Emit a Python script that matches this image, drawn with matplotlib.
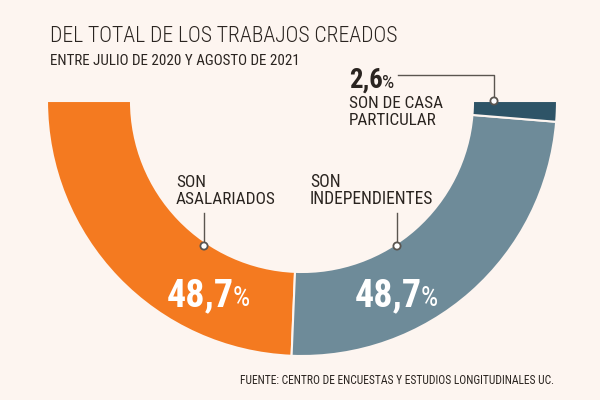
import matplotlib
matplotlib.use("Agg")
import matplotlib.pyplot as plt
from matplotlib.patches import Circle
from matplotlib import font_manager

labels = [["SON", "ASALARIADOS"], ["SON", "INDEPENDIENTES"], ["SON DE CASA", "PARTICULAR"]]
shares = [48.7, 48.7, 2.6]
share_text = ["48,7", "48,7", "2,6"]
colors = ["#F47A20", "#6E8B99", "#2E5467"]

bg = "#FDF5F0"
ink = "#2A2420"

# pick the narrowest family that is installed
installed = {f.name for f in font_manager.fontManager.ttflist}
fam = "DejaVu Sans"
for name in ["Roboto Condensed", "Liberation Sans Narrow", "Open Sans Condensed", "Roboto"]:
    if name in installed:
        fam = name
        break

fig = plt.figure(figsize=(6, 4), dpi=100, facecolor=bg)
ax = fig.add_axes([0, 0, 1, 1])
ax.set_facecolor(bg)

# half donut: the shares fill the lower half, the upper half stays hidden
cx, cy, r = 302, 299, 255
wedges, _ = ax.pie(shares + [sum(shares)], colors=colors + ["none"],
                   startangle=180, counterclock=True, radius=r, center=(cx, cy),
                   wedgeprops=dict(width=r - 171, edgecolor=bg, linewidth=1.5))
wedges[-1].set_edgecolor("none")

ax.set_xlim(0, 600)
ax.set_ylim(0, 400)
ax.set_aspect("equal")
ax.axis("off")

renderer = fig.canvas.get_renderer()

def py(y):
    return 400 - y

def fit(x, ybase, s, width, size, **kw):
    # draw text, then scale its size so it spans the given pixel width
    t = ax.text(x, py(ybase), s, fontsize=size, family=fam, va="baseline", **kw)
    w = t.get_window_extent(renderer).width
    t.set_fontsize(size * width / w)
    return t

def right_edge(t):
    return t.get_window_extent(renderer).x1

# titles
fit(50, 42, "DEL TOTAL DE LOS TRABAJOS CREADOS", 347, 16, color=ink, weight="light")
fit(50, 65, "ENTRE JULIO DE 2020 Y AGOSTO DE 2021", 248, 11, color=ink)

# callouts for the two big slices
line_c = "#5A5550"
for x, lab, w in [(176, labels[0], 99), (310, labels[1], 123)]:
    t = fit(x, 204, lab[1], w, 12, color=ink)
    ax.text(x, py(187), lab[0], fontsize=t.get_fontsize(), family=fam, va="baseline", color=ink)
for x in (204, 397):
    ax.plot([x, x], [py(213), py(243)], color=line_c, lw=1)
    ax.add_patch(Circle((x, py(246)), 3.6, facecolor="white", edgecolor=line_c, lw=1.3, zorder=5))

# big percentages
for x, t in [(167, share_text[0]), (355, share_text[1])]:
    n = fit(x, 306, t, 67, 30, color="white", weight="bold")
    ax.text(right_edge(n) - 1, py(306), "%", fontsize=n.get_fontsize() * 0.72, color="white",
            family=fam, va="baseline")

# small slice callout
n = fit(349, 88, share_text[2], 34, 20, color=ink, weight="bold")
ax.text(right_edge(n) - 1, py(88), "%", fontsize=n.get_fontsize() * 0.72, color=ink,
        family=fam, va="baseline")
ax.plot([398, 494, 494], [py(75), py(75), py(98)], color=line_c, lw=1)
ax.add_patch(Circle((494, py(101)), 3.6, facecolor="white", edgecolor=line_c, lw=1.3, zorder=5))
t = fit(349, 108, labels[2][0], 94, 12, color=ink)
ax.text(349, py(125), labels[2][1], fontsize=t.get_fontsize(), family=fam, va="baseline", color=ink)

fit(240, 384, "FUENTE: CENTRO DE ENCUESTAS Y ESTUDIOS LONGITUDINALES UC.", 315, 8, color=ink)

fig.savefig("out.png", dpi=100, facecolor=bg)
